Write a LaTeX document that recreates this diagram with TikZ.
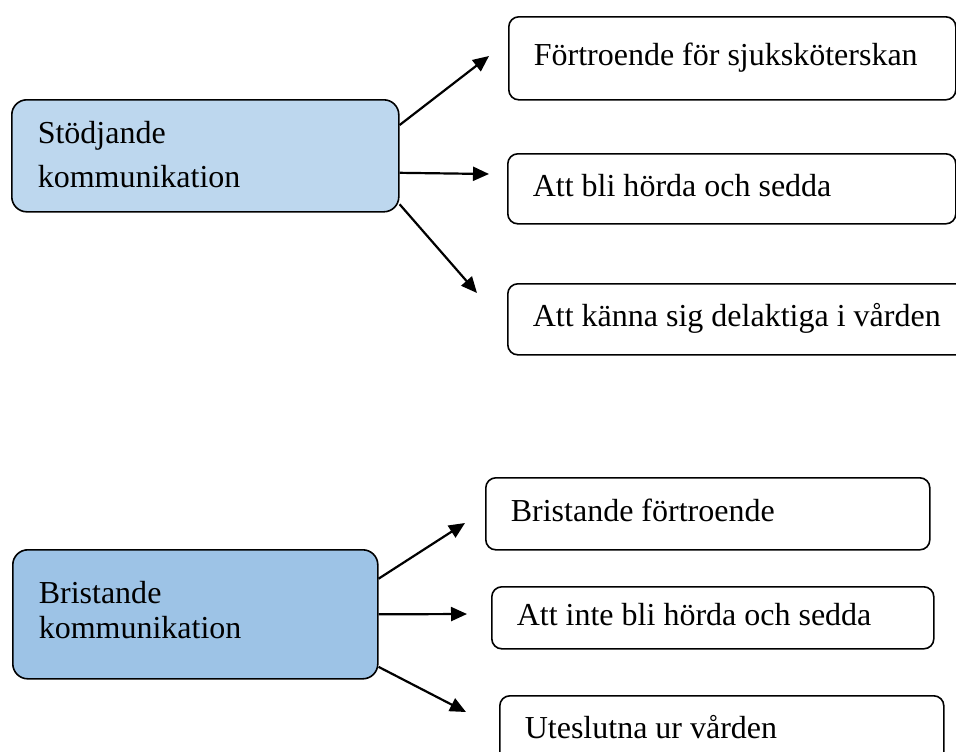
\documentclass[tikz,border=0pt]{standalone}
\usepackage{fontspec}
\setmainfont{Liberation Serif}
\usetikzlibrary{positioning,arrows.meta}

\definecolor{stodblue}{RGB}{189,215,238}
\definecolor{bristblue}{RGB}{157,195,230}

\tikzset{
  every node/.style={execute at begin node={\spaceskip=0pt\xspaceskip=0pt}},
  catbox/.style={draw,line width=0.8pt,rounded corners=7.5pt,anchor=north west,
    inner xsep=13pt,inner ysep=0pt},
  subbox/.style={draw,line width=0.8pt,rounded corners=5pt,anchor=north west,
    inner xsep=12.5pt,inner ysep=0pt,text height=11.2pt,text depth=4pt,
    font=\fontsize{16}{19}\selectfont},
  arr/.style={-{Triangle[length=8pt,width=7pt]},line width=1.1pt}
}

\begin{document}
\begin{tikzpicture}[x=0.5pt,y=-0.5pt]
\useasboundingbox (0,0) rectangle (956,751);
% supporting communication
\node[catbox,fill=stodblue,text width=167.5pt,minimum height=56pt,text height=11pt,text depth=23pt,
  font=\fontsize{16}{22}\selectfont] (stod) at (11,99) {Stödjande\\kommunikation};
\node[subbox,text width=198.5pt,minimum height=41.5pt] (trust) at (508,16) {Förtroende för sjuksköterskan};
\node[subbox,text width=199pt,minimum height=35pt] (heard) at (507,153) {Att bli hörda och sedda};
\node[subbox,text width=215pt,minimum height=35.5pt] (part) at (507,283) {Att känna sig delaktiga i vården};
\coordinate (trusttip) at (489,56);
\coordinate (heardtip) at (489,174);
\coordinate (parttip) at (477,293);
\draw[arr] (stod.9.4) -- (trusttip);
\draw[arr] (stod.-5.6) -- (heardtip);
\draw[arr] (stod.-14.5) -- (parttip);
% lacking communication
\node[catbox,fill=bristblue,text width=156.5pt,minimum height=64.5pt,text height=8pt,text depth=18.5pt,
  font=\fontsize{16}{17.5}\selectfont] (brist) at (12,549) {Bristande\\kommunikation};
\node[subbox,text width=197pt,minimum height=36pt] (notrust) at (485,477) {Bristande förtroende};
\node[subbox,text width=196pt,minimum height=31pt] (notheard) at (491,586) {Att inte bli hörda och sedda};
\node[subbox,text width=197pt,minimum height=35pt] (excl) at (499,695) {Uteslutna ur vården};
\coordinate (notrusttip) at (465,523);
\coordinate (notheardtip) at (467,614);
\coordinate (excltip) at (466,712);
\draw[arr] (brist.11.3) -- (notrusttip);
\draw[arr] (brist.east) -- (notheardtip);
\draw[arr] (brist.-16) -- (excltip);
\end{tikzpicture}
\end{document}
